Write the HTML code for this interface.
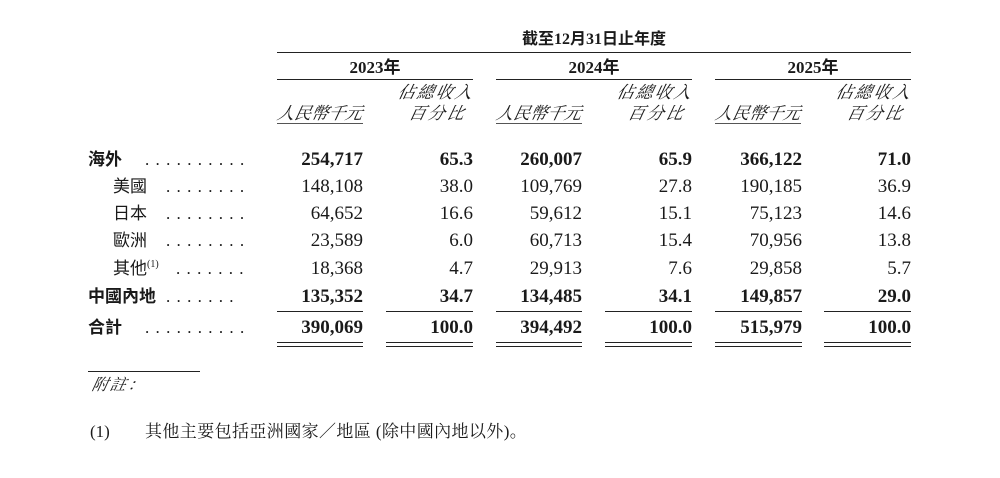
<!DOCTYPE html>
<html><head><meta charset="utf-8"><style>
html,body{margin:0;padding:0;background:#fff;}
body{width:1000px;height:478px;position:relative;overflow:hidden;color:#1a1a1a;}
.t{position:absolute;white-space:nowrap;line-height:24px;height:24px;}
.n{font-family:"Liberation Serif","Noto Serif CJK SC",serif;font-size:19px;text-align:right;}
.b{font-weight:bold;}
.cj{font-family:"Liberation Sans","Noto Sans CJK TC",sans-serif;font-size:17px;}
.it{font-family:"Liberation Serif","Noto Serif CJK SC",serif;font-size:17px;font-style:italic;transform:skewX(-12deg);}
.l{position:absolute;height:1px;background:#222;}
.dots{position:absolute;font-family:"Liberation Serif",serif;font-size:17px;letter-spacing:6.3px;line-height:24px;}
.sup{position:relative;top:-7px;font-size:10px;font-family:'Liberation Serif',serif;}
</style></head><body>
<div class="t b" style="left:494px;top:28px;width:200px;text-align:center;font-family:'Liberation Serif','Noto Sans CJK TC',serif;font-size:16px">截至12月31日止年度</div>
<div class="l" style="left:277px;top:52px;width:634px"></div>
<div class="t b" style="left:277px;top:56px;width:196px;text-align:center;font-family:'Liberation Serif','Noto Sans CJK TC',serif;font-size:17px">2023年</div>
<div class="t b" style="left:496px;top:56px;width:196px;text-align:center;font-family:'Liberation Serif','Noto Sans CJK TC',serif;font-size:17px">2024年</div>
<div class="t b" style="left:715px;top:56px;width:196px;text-align:center;font-family:'Liberation Serif','Noto Sans CJK TC',serif;font-size:17px">2025年</div>
<div class="l" style="left:277px;top:79px;width:196px"></div>
<div class="l" style="left:496px;top:79px;width:196px"></div>
<div class="l" style="left:715px;top:79px;width:196px"></div>

<div class="t it" style="left:277px;top:102px;width:86px;text-align:center">人民幣千元</div>
<div class="l" style="left:277px;top:123px;width:86px;background:#555"></div>
<div class="t it" style="left:386px;top:81px;width:88px;text-align:right;letter-spacing:2px">佔總收入</div>
<div class="t it" style="left:386px;top:102px;width:80px;text-align:right;letter-spacing:2px">百分比</div>
<div class="t it" style="left:496px;top:102px;width:86px;text-align:center">人民幣千元</div>
<div class="l" style="left:496px;top:123px;width:86px;background:#555"></div>
<div class="t it" style="left:605px;top:81px;width:88px;text-align:right;letter-spacing:2px">佔總收入</div>
<div class="t it" style="left:605px;top:102px;width:80px;text-align:right;letter-spacing:2px">百分比</div>
<div class="t it" style="left:715px;top:102px;width:86px;text-align:center">人民幣千元</div>
<div class="l" style="left:715px;top:123px;width:86px;background:#555"></div>
<div class="t it" style="left:824px;top:81px;width:88px;text-align:right;letter-spacing:2px">佔總收入</div>
<div class="t it" style="left:824px;top:102px;width:80px;text-align:right;letter-spacing:2px">百分比</div>

<div class="t cj b" style="left:88px;top:148px">海外</div><div class="dots" style="left:145px;top:148px">..........</div>
<div class="t cj" style="left:113px;top:175px">美國</div><div class="dots" style="left:166px;top:175px">........</div>
<div class="t cj" style="left:113px;top:202px">日本</div><div class="dots" style="left:166px;top:202px">........</div>
<div class="t cj" style="left:113px;top:229px">歐洲</div><div class="dots" style="left:166px;top:229px">........</div>
<div class="t cj" style="left:113px;top:257px">其他<span class="sup">(1)</span></div><div class="dots" style="left:176px;top:257px">.......</div>
<div class="t cj b" style="left:88px;top:285px">中國內地</div><div class="dots" style="left:166px;top:285px">.......</div>
<div class="t cj b" style="left:88px;top:316px">合計</div><div class="dots" style="left:145px;top:316px">..........</div>

<div id="d"></div>
<script>
var rows=[[148,true,["254,717","65.3","260,007","65.9","366,122","71.0"]],
[175,false,["148,108","38.0","109,769","27.8","190,185","36.9"]],
[202,false,["64,652","16.6","59,612","15.1","75,123","14.6"]],
[229,false,["23,589","6.0","60,713","15.4","70,956","13.8"]],
[257,false,["18,368","4.7","29,913","7.6","29,858","5.7"]],
[285,true,["135,352","34.7","134,485","34.1","149,857","29.0"]],
[316,true,["390,069","100.0","394,492","100.0","515,979","100.0"]]];
var rights=[363,473,582,692,802,911];
var h="";
rows.forEach(function(r){r[2].forEach(function(v,i){h+='<div class="t n'+(r[1]?' b':'')+'" style="left:'+(rights[i]-120)+'px;top:'+r[0]+'px;width:120px">'+v+'</div>';});});
var lefts=[277,386,496,605,715,824];
lefts.forEach(function(x,i){var w=rights[i]-x;
h+='<div class="l" style="left:'+x+'px;top:311px;width:'+w+'px"></div>';
h+='<div class="l" style="left:'+x+'px;top:342px;width:'+w+'px"></div>';
h+='<div class="l" style="left:'+x+'px;top:346px;width:'+w+'px"></div>';});
document.getElementById("d").innerHTML=h;
</script>

<div class="l" style="left:88px;top:371px;width:112px"></div>
<div class="t it" style="left:92px;top:374px;font-size:16px;letter-spacing:2px">附註：</div>
<div class="t" style="left:90px;top:420px;font-family:'Liberation Serif',serif;font-size:17px">(1)</div>
<div class="t" style="left:145px;top:420px;font-family:'Liberation Serif','Noto Serif CJK SC',serif;font-size:17px;letter-spacing:0.4px">其他主要包括亞洲國家／地區 (除中國內地以外)。</div>
</body></html>
